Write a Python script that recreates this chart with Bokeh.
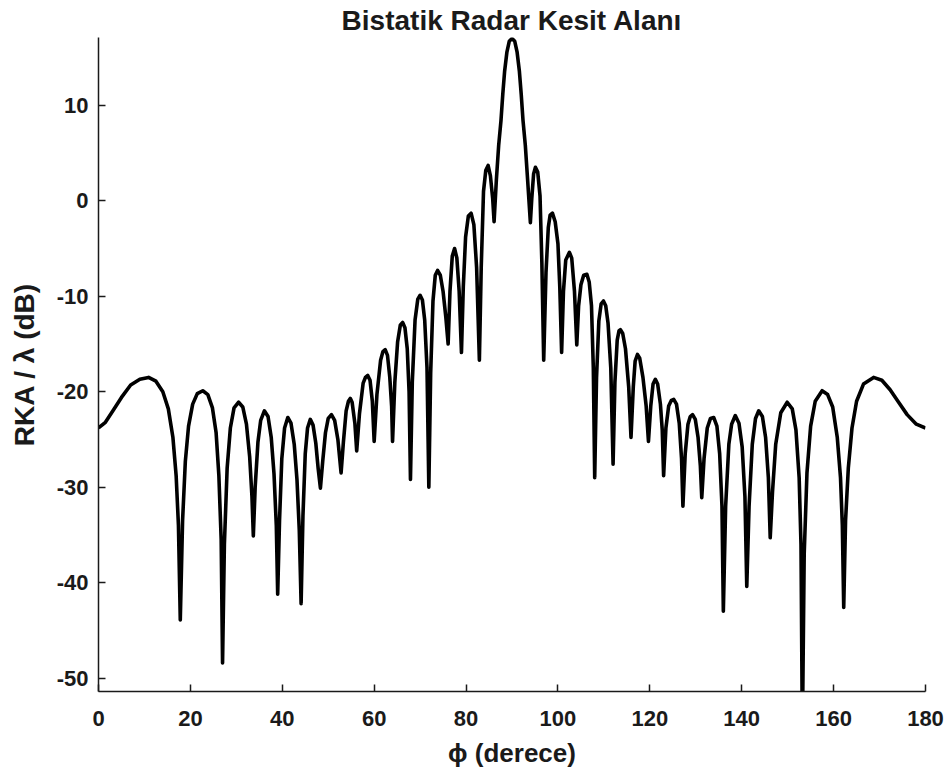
from bokeh.plotting import figure
from bokeh.models import Range1d, FixedTicker
from bokeh.embed import file_html
from bokeh.resources import INLINE

# Bistatic radar cross-section, left half (0..90 degrees)
phi_left = [
    0.0, 1.5, 3.0, 5.0, 7.0, 9.0, 10.9, 12.5, 14.0, 15.2, 16.2, 16.9, 17.4, 17.8,
    18.3, 18.9, 19.6, 20.5, 21.5, 22.7, 23.8, 24.8, 25.6, 26.2, 26.7, 27.0,
    27.4, 28.0, 28.7, 29.5, 30.5, 31.4, 32.2, 32.9, 33.4, 33.7,
    34.1, 34.7, 35.3, 36.1, 36.9, 37.6, 38.2, 38.7, 39.0,
    39.4, 39.9, 40.5, 41.2, 41.9, 42.6, 43.2, 43.7, 44.1,
    44.5, 45.0, 45.5, 46.1, 46.7, 47.3, 47.8, 48.3,
    48.8, 49.4, 50.0, 50.7, 51.4, 52.1, 52.8,
    53.3, 53.9, 54.4, 54.8, 55.2, 55.8, 56.2,
    56.8, 57.6, 58.1, 58.6, 59.1, 59.6, 60.0,
    60.6, 61.4, 61.9, 62.4, 62.9, 63.4, 63.8, 64.0,
    64.5, 65.1, 65.7, 66.2, 66.7, 67.2, 67.6, 67.9,
    68.3, 68.9, 69.5, 70.0, 70.5, 71.0, 71.5, 71.9,
    72.3, 72.8, 73.3, 73.8, 74.4, 75.0, 75.6, 76.1,
    76.5, 77.0, 77.5, 78.0, 78.5, 79.0,
    79.4, 79.9, 80.5, 81.1, 81.7, 82.3, 82.9,
    83.3, 83.8, 84.3, 84.8, 85.3, 85.8, 86.1,
    86.6, 87.1, 87.6, 88.0, 88.4, 88.9, 89.4, 90.0,
]
rcs_left = [
    -23.8, -23.2, -22.1, -20.6, -19.3, -18.7, -18.5, -18.9, -20.0, -21.8, -24.8, -28.8, -34.0, -43.9,
    -33.5, -27.3, -23.6, -21.3, -20.2, -19.9, -20.3, -21.7, -24.3, -28.8, -35.5, -48.4,
    -36.0, -28.0, -23.8, -21.7, -21.1, -21.6, -23.4, -26.8, -31.0, -35.1,
    -30.0, -25.3, -23.0, -22.0, -22.6, -24.8, -28.6, -34.0, -41.2,
    -33.5, -27.0, -23.8, -22.7, -23.3, -25.5, -29.2, -34.5, -42.2,
    -33.0, -26.5, -23.8, -22.9, -23.5, -25.4, -28.0, -30.1,
    -27.3, -24.3, -22.8, -22.4, -23.0, -25.0, -28.5,
    -25.3, -22.0, -21.0, -20.7, -21.1, -23.3, -26.2,
    -22.3, -19.1, -18.5, -18.3, -18.8, -21.0, -25.2,
    -20.3, -16.7, -15.8, -15.6, -16.2, -18.5, -21.5, -25.2,
    -19.0, -14.8, -13.0, -12.75, -13.3, -15.5, -20.0, -29.2,
    -19.0, -12.5, -10.3, -9.9, -10.4, -12.5, -17.5, -30.0,
    -18.0, -10.5, -7.8, -7.3, -7.8, -9.5, -12.2, -15.0,
    -9.5, -5.8, -5.0, -6.0, -9.5, -15.9,
    -9.0, -3.8, -1.6, -1.3, -2.5, -7.0, -16.7,
    -7.0, 1.0, 3.2, 3.7, 2.6, 0.2, -2.2,
    2.2, 5.8, 8.4, 11.2, 13.6, 15.6, 16.7, 17.0,
]

# Right half (90..180 degrees)
phi_right = [
    90.6, 91.1, 91.6, 92.0, 92.4, 92.9, 93.4, 94.0,
    94.3, 94.7, 95.1, 95.6, 96.1, 96.5, 96.9,
    97.4, 97.9, 98.3, 98.8, 99.4, 100.0, 100.4, 100.8,
    101.2, 101.7, 102.5, 103.0, 103.6, 104.1,
    104.5, 105.0, 105.6, 106.3, 106.8, 107.3, 107.7, 108.0,
    108.4, 108.9, 109.4, 109.9, 110.4, 110.9, 111.5, 112.0,
    112.4, 112.9, 113.3, 113.6, 114.1, 114.7, 115.4, 115.9,
    116.4, 116.8, 117.3, 117.8, 118.5, 119.2, 119.7,
    120.2, 120.7, 121.2, 121.7, 122.3, 122.7, 123.0,
    123.5, 124.1, 124.7, 125.2, 125.8, 126.4, 126.9, 127.2,
    127.7, 128.3, 128.8, 129.3, 129.9, 130.5, 131.0, 131.3,
    131.8, 132.5, 133.2, 133.9, 134.6, 135.2, 135.7, 136.0,
    136.5, 137.2, 137.8, 138.6, 139.4, 140.1, 140.7, 141.1,
    141.6, 142.3, 143.0, 143.7, 144.5, 145.2, 145.8, 146.2,
    146.7, 147.4, 148.5, 149.9, 151.0, 151.8, 152.5, 152.9, 153.2,
    153.6, 154.2, 155.0, 156.0, 157.5, 158.7, 159.8, 160.8, 161.5, 161.9, 162.2,
    162.6, 163.2, 164.0, 165.0, 166.5, 168.7, 170.5, 172.3, 174.0, 176.0, 178.0, 180.0,
]
rcs_right = [
    16.7, 15.6, 13.6, 11.2, 8.4, 5.8, 2.2, -2.3,
    0.2, 2.8, 3.5, 3.0, 0.5, -6.5, -16.7,
    -7.5, -2.8, -1.5, -1.3, -2.2, -4.5, -9.0, -15.9,
    -9.5, -6.2, -5.4, -6.0, -9.5, -15.1,
    -11.0, -8.8, -7.8, -7.7, -8.5, -11.0, -17.5, -29.0,
    -18.5, -12.6, -10.8, -10.5, -11.0, -12.8, -17.5, -27.6,
    -19.0, -14.6, -13.6, -13.5, -13.9, -15.5, -19.5, -24.8,
    -19.5, -16.8, -16.1, -16.5, -18.5, -21.5, -25.2,
    -21.5, -19.2, -18.7, -19.2, -21.3, -24.0, -28.8,
    -23.8, -21.5, -20.9, -20.8, -21.3, -23.3, -27.0, -32.0,
    -26.5, -23.4, -22.6, -22.4, -22.9, -24.8, -27.8, -31.1,
    -27.0, -23.8, -22.8, -22.7, -23.6, -26.5, -32.0, -43.0,
    -32.0, -25.5, -23.4, -22.5, -23.3, -25.8, -31.0, -40.4,
    -32.0, -25.5, -22.8, -22.0, -22.6, -24.8, -29.0, -35.3,
    -30.5, -25.5, -22.2, -21.1, -21.8, -24.0, -29.0, -36.0, -56.0,
    -37.0, -28.5, -23.6, -21.0, -19.9, -20.3, -21.6, -24.8, -29.0, -34.0, -42.6,
    -33.5, -28.0, -23.8, -21.0, -19.2, -18.5, -18.8, -19.8, -21.0, -22.4, -23.4, -23.8,
]

x_ticks = [0, 20, 40, 60, 80, 100, 120, 140, 160, 180]
y_ticks = [-50, -40, -30, -20, -10, 0, 10]

phi = phi_left + phi_right
rcs = rcs_left + rcs_right

INK = "#1a1a1a"
FONT = "Liberation Sans"

p = figure(
    width=951, height=779,
    output_backend="svg", toolbar_location=None,
    x_range=Range1d(0, 180), y_range=Range1d(-51.4, 17.1),
    min_border_left=98, min_border_right=26,
    min_border_top=37, min_border_bottom=88,
    background_fill_color="white", border_fill_color="white",
)
p.outline_line_color = None
p.grid.visible = False

p.title.text = "Bistatik Radar Kesit Alanı"
p.title.align = "center"
p.title.text_font = FONT
p.title.text_font_size = "28px"
p.title.text_font_style = "bold"
p.title.text_color = INK
p.title.standoff = 3

for ax in (p.xaxis[0], p.yaxis[0]):
    ax.axis_line_color = INK
    ax.axis_line_width = 1.5
    ax.major_tick_line_color = INK
    ax.major_tick_line_width = 1.5
    ax.major_tick_in = 7
    ax.major_tick_out = 0
    ax.minor_tick_in = 0
    ax.minor_tick_out = 0
    ax.major_label_text_font = FONT
    ax.major_label_text_font_size = "22px"
    ax.major_label_text_font_style = "bold"
    ax.major_label_text_color = INK
    ax.axis_label_text_font = FONT
    ax.axis_label_text_font_style = "bold"
    ax.axis_label_text_color = INK

p.xaxis.ticker = FixedTicker(ticks=x_ticks)
p.yaxis.ticker = FixedTicker(ticks=y_ticks)
# plain hyphen-minus on the negative tick labels
p.yaxis.major_label_overrides = {t: str(t) for t in y_ticks}
p.xaxis.major_label_standoff = 19
p.yaxis.major_label_standoff = 10
p.xaxis.axis_label = "ϕ (derece)"
p.yaxis.axis_label = "RKA / λ (dB)"
p.xaxis.axis_label_text_font_size = "26px"
p.yaxis.axis_label_text_font_size = "28px"
p.xaxis.axis_label_standoff = 9
p.yaxis.axis_label_standoff = 14

p.line(phi, rcs, line_width=3.6, line_color="black", line_join="round")

open("out.html", "w").write(file_html(p, INLINE))
